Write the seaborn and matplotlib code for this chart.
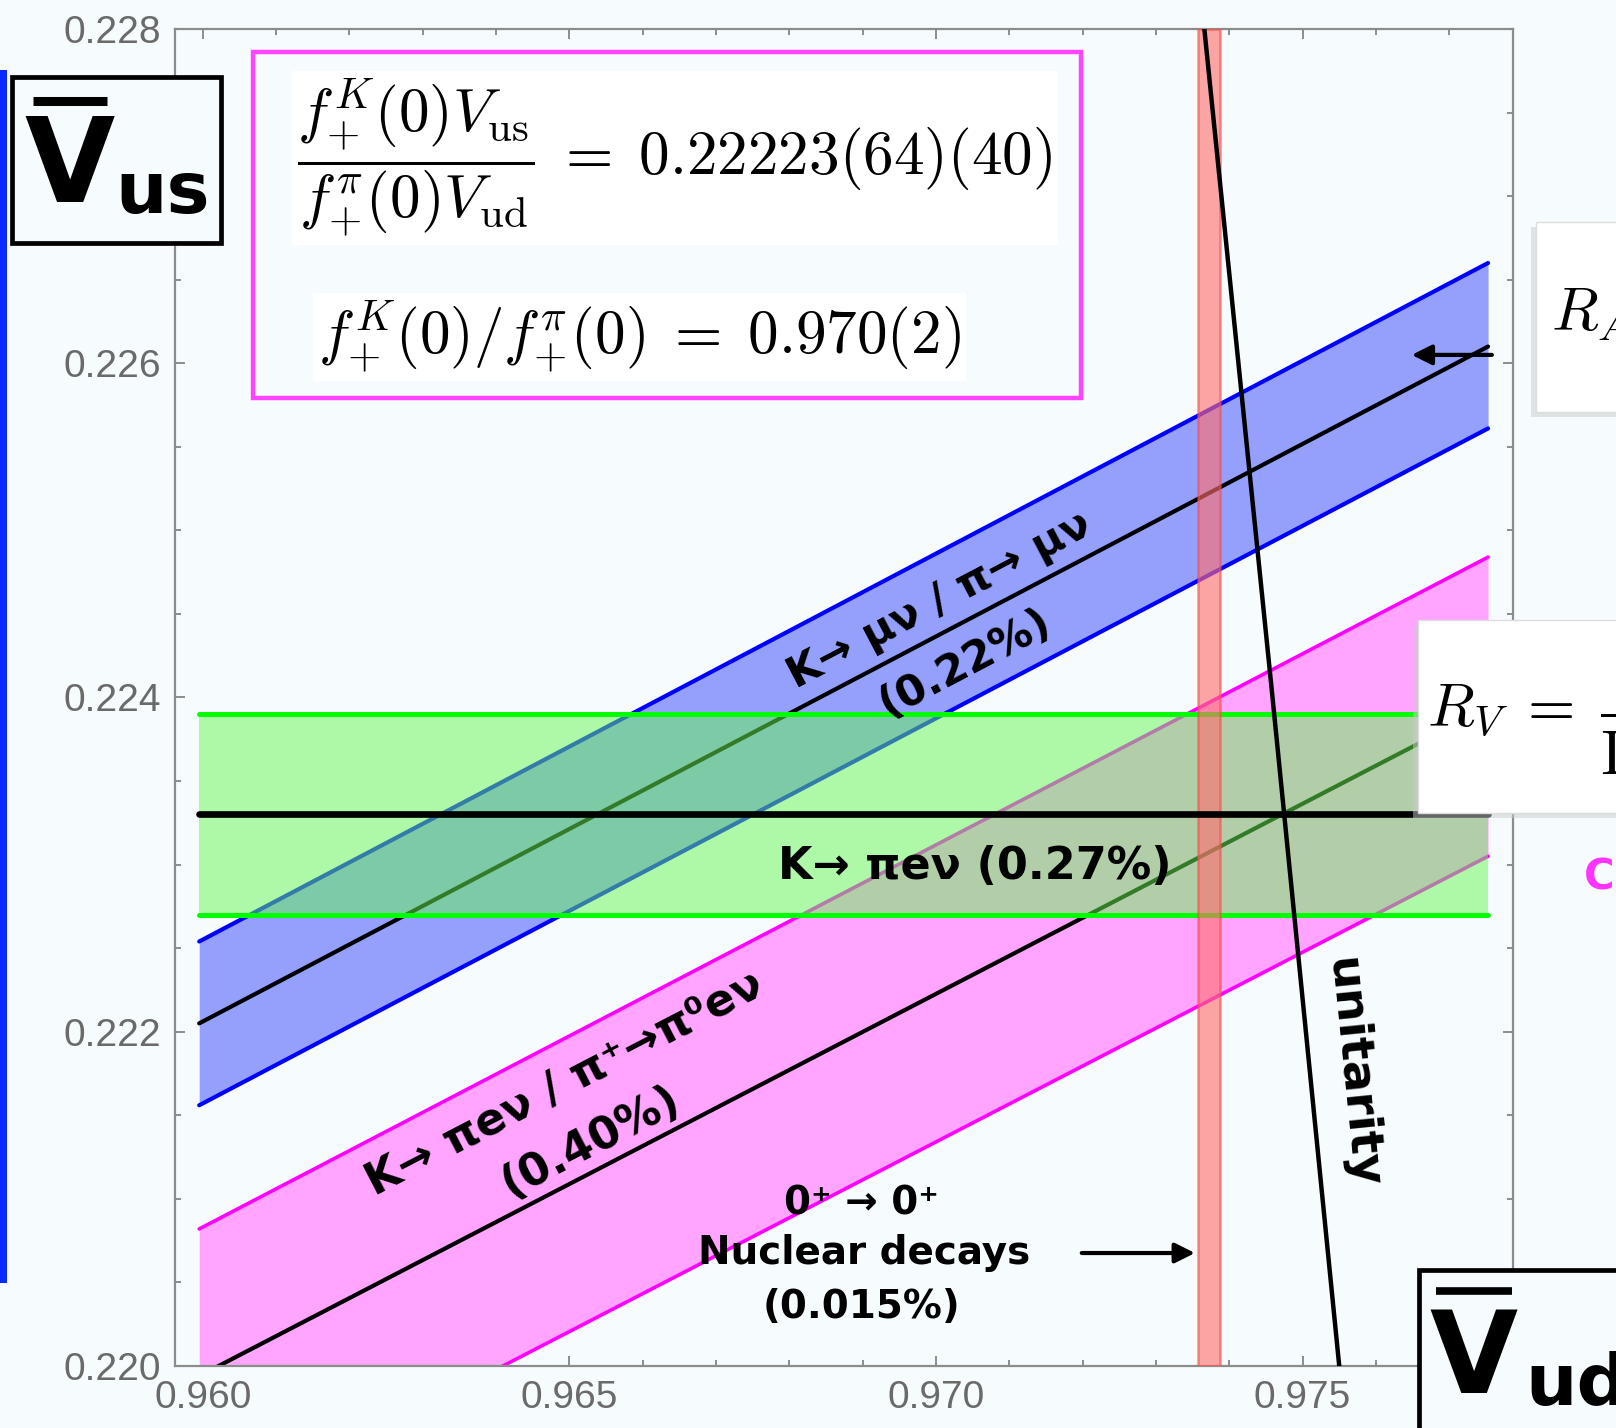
import numpy as np
import pandas as pd
import matplotlib
matplotlib.use("Agg")
import matplotlib.pyplot as plt
import seaborn as sns
from matplotlib.patches import Rectangle
from matplotlib.lines import Line2D
from matplotlib.ticker import FixedLocator, MultipleLocator

# ---------------- data ----------------
band_vud = [0.95995, 0.97753]          # horizontal extent of the three bands
kmu_center = [0.22205, 0.22610]         # K->mu nu / pi->mu nu  (0.22%)
kmu_low = [0.22156, 0.22561]
kmu_up = [0.22254, 0.22660]
kpi_center = [0.21994, 0.22394]         # K->pi e nu / pi+->pi0 e nu (0.40%)
kpi_low = [0.21906, 0.22305]
kpi_up = [0.22082, 0.22484]
kl3_center = [0.22330, 0.22330]         # K->pi e nu (0.27%)
kl3_low = [0.22270, 0.22270]
kl3_up = [0.22390, 0.22390]
nuc_vud = [0.97357, 0.97388]            # 0+ -> 0+ nuclear decays (0.015%)
unit_vus = [0.2200, 0.2240, 0.2280]     # unitarity curve
unit_vud = [0.97550, 0.97459, 0.97366]
xticks = [0.960, 0.965, 0.970, 0.975]
xtick_labels = ["0.960", "0.965", "0.970", "0.975"]
yticks = [0.220, 0.222, 0.224, 0.226, 0.228]
ytick_labels = ["0.220", "0.222", "0.224", "0.226", "0.228"]
xlim = (0.95962, 0.97787)
ylim = (0.2200, 0.2280)

# ---------------- style ----------------
sns.set_style("white")
plt.rcParams["font.family"] = ["DejaVu Sans"]
plt.rcParams["mathtext.fontset"] = "cm"
plt.rcParams["text.color"] = "black"
BG = "#F6FCFD"
W, H = 1616, 1428

fig = plt.figure(figsize=(W / 100, H / 100), dpi=100, facecolor=BG)
ax = fig.add_axes([175 / W, 1 - 1366 / H, (1513 - 175) / W, (1366 - 29) / H])
ax.set_facecolor(BG)
ax.set_xlim(*xlim)
ax.set_ylim(*ylim)


def px(x, y):
    return (x / W, 1 - y / H)


# pink band
ax.fill_between(band_vud, kpi_low, kpi_up, color="#FFA5FF", lw=0, zorder=1)
for yy, c, lw in [(kpi_low, "#FF00FF", 2.6), (kpi_up, "#FF00FF", 2.6), (kpi_center, "black", 3.0)]:
    sns.lineplot(x=band_vud, y=yy, ax=ax, color=c, lw=lw, zorder=2, estimator=None, sort=False)

# blue band
ax.fill_between(band_vud, kmu_low, kmu_up, color="#94A0FC", lw=0, zorder=3)
for yy, c, lw in [(kmu_low, "#0000FF", 3.0), (kmu_up, "#0000FF", 3.0), (kmu_center, "black", 3.0)]:
    sns.lineplot(x=band_vud, y=yy, ax=ax, color=c, lw=lw, zorder=4, estimator=None, sort=False)

# green band (translucent, on top)
ax.fill_between(band_vud, kl3_low, kl3_up, color=(0.40, 0.97, 0.32), alpha=0.5, lw=0, zorder=5)
for yy in (kl3_low, kl3_up):
    sns.lineplot(x=band_vud, y=yy, ax=ax, color="#00FF00", lw=3.6, zorder=6, estimator=None, sort=False)

# red nuclear band
ax.axvspan(nuc_vud[0], nuc_vud[1], facecolor="#FF6E6E", alpha=0.62, edgecolor="#FF4A4A", lw=1.8, zorder=7)

# black central K->pi e nu line
sns.lineplot(x=band_vud, y=kl3_center, ax=ax, color="black", lw=4.8, zorder=8, estimator=None, sort=False)

# unitarity
sns.lineplot(x=unit_vud, y=unit_vus, ax=ax, color="black", lw=3.2, zorder=9, estimator=None, sort=False)
ax.set_xlabel("")
ax.set_ylabel("")

# ---------------- axes styling ----------------
ax.xaxis.set_major_locator(FixedLocator(xticks))
ax.set_xticklabels(xtick_labels)
ax.yaxis.set_major_locator(FixedLocator(yticks))
ax.set_yticklabels(ytick_labels)
ax.xaxis.set_minor_locator(MultipleLocator(0.001))
ax.yaxis.set_minor_locator(MultipleLocator(0.0005))
ax.tick_params(which="both", direction="in", top=True, right=True,
               bottom=True, left=True, color="#7a7a7a", width=1.2)
ax.tick_params(which="major", length=7.5, labelsize=28, labelcolor="#6a6a6a", pad=10)
ax.tick_params(which="minor", length=4.5)
for lab in ax.get_xticklabels() + ax.get_yticklabels():
    lab.set_fontfamily(["Liberation Sans", "DejaVu Sans"])
for sp in ax.spines.values():
    sp.set_color("#8c8c8c")
    sp.set_linewidth(1.6)


# ---------------- band labels ----------------
def screen_angle(x0, y0, x1, y1):
    p0 = ax.transData.transform((x0, y0))
    p1 = ax.transData.transform((x1, y1))
    return np.degrees(np.arctan2(p1[1] - p0[1], p1[0] - p0[0]))


ang_mu = screen_angle(band_vud[0], kmu_center[0], band_vud[1], kmu_center[1])
ang_pi = screen_angle(band_vud[0], kpi_center[0], band_vud[1], kpi_center[1])
ang_u = screen_angle(unit_vud[-1], unit_vus[-1], unit_vud[0], unit_vus[0])

tkw = dict(fontweight="bold", color="black", ha="center", va="center",
           rotation_mode="anchor", zorder=12)
ax.text(0.97005, 0.224583, "K→ μν / π→ μν", fontsize=31, rotation=ang_mu, **tkw)
ax.text(0.97039, 0.224206, "(0.22%)", fontsize=31, rotation=ang_mu, **tkw)
ax.text(0.964937, 0.221693, "K→ πeν / π⁺→π⁰eν", fontsize=32, rotation=ang_pi, **tkw)
ax.text(0.965279, 0.221340, "(0.40%)", fontsize=32, rotation=ang_pi, **tkw)
ax.text(0.970530, 0.222986, "K→ πeν (0.27%)", fontsize=32, **tkw)
ax.text(0.968988, 0.220975, "0⁺ → 0⁺", fontsize=28, **tkw)
ax.text(0.969015, 0.220676, "Nuclear decays", fontsize=28, **tkw)
ax.text(0.968988, 0.220353, "(0.015%)", fontsize=28, **tkw)
ax.text(0.975671, 0.221753, "unitarity", fontsize=34, rotation=ang_u, **tkw)

# arrows
ax.annotate("", xy=(0.97357, 0.220676), xytext=(0.97195, 0.220676),
            arrowprops=dict(arrowstyle="-|>", color="black", lw=3, mutation_scale=30), zorder=12)
ax.annotate("", xy=(0.97645, 0.22605), xytext=(0.97762, 0.22605),
            arrowprops=dict(arrowstyle="-|>", color="black", lw=3, mutation_scale=30), zorder=12)

# ---------------- figure decorations ----------------
# left blue slide bar
fig.add_artist(Rectangle(px(0, 1283), 7 / W, 1213 / H, transform=fig.transFigure,
                         facecolor="#0A2BFF", edgecolor="none", zorder=3))

# formula box
fig.add_artist(Rectangle(px(253, 398), (1081 - 253) / W, (398 - 52) / H, transform=fig.transFigure,
                         facecolor=BG, edgecolor="#FF44FF", lw=3.2, zorder=3))
fig.text(*px(297, 158),
         r"$\dfrac{f_{+}^{K}(0)V_{\mathrm{us}}}{f_{+}^{\pi}(0)V_{\mathrm{ud}}}\;=\;0.22223(64)(40)$",
         fontsize=44, ha="left", va="center", zorder=4,
         bbox=dict(facecolor="white", edgecolor="none", pad=4))
fig.text(*px(318, 337), r"$f_{+}^{K}(0)/f_{+}^{\pi}(0)\;=\;0.970(2)$",
         fontsize=44, ha="left", va="center", zorder=4,
         bbox=dict(facecolor="white", edgecolor="none", pad=4))

# V_us box
fig.add_artist(Rectangle(px(12, 243), (221 - 12) / W, (243 - 77) / H, transform=fig.transFigure,
                         facecolor=BG, edgecolor="black", lw=3.4, zorder=3))
fig.text(*px(24, 202), "V", fontsize=84, fontweight="bold", ha="left", va="baseline", zorder=4)
fig.text(*px(115, 213), "us", fontsize=52, fontweight="bold", ha="left", va="baseline", zorder=4)
fig.add_artist(Line2D([33 / W, 107 / W], [1 - 101 / H, 1 - 101 / H], transform=fig.transFigure,
                      color="black", lw=6.5, solid_capstyle="butt", zorder=4))

# R_A box
fig.add_artist(Rectangle(px(1531, 417), 200 / W, 190 / H, transform=fig.transFigure,
                         facecolor="#c8cccc", edgecolor="none", alpha=0.5, zorder=3))
fig.add_artist(Rectangle(px(1536, 412), 200 / W, 190 / H, transform=fig.transFigure,
                         facecolor="white", edgecolor="#dddddd", lw=1, zorder=3))
fig.text(*px(1551, 317), r"$R_A\;=\;\dfrac{\Gamma(K\to\mu\nu)}{\Gamma(\pi\to\mu\nu)}$",
         fontsize=44, ha="left", va="center", zorder=4)

# R_V box
fig.add_artist(Rectangle(px(1413, 818), 300 / W, 193 / H, transform=fig.transFigure,
                         facecolor="#c8cccc", edgecolor="none", alpha=0.5, zorder=3))
fig.add_artist(Rectangle(px(1418, 813), 300 / W, 193 / H, transform=fig.transFigure,
                         facecolor="white", edgecolor="#dddddd", lw=1, zorder=3))
fig.text(*px(1427, 716), r"$R_V\;=\;\dfrac{\Gamma(K\to\pi e\nu)}{\Gamma(\pi^+\to\pi^0 e\nu)}$",
         fontsize=44, ha="left", va="center", zorder=4)

# magenta partial caption
fig.text(*px(1584, 877), "CKM", fontsize=30, fontweight="bold", color="#FF33FF",
         ha="left", va="center", zorder=4)

# V_ud box
fig.add_artist(Rectangle(px(1419, 1500), 300 / W, 230 / H, transform=fig.transFigure,
                         facecolor=BG, edgecolor="black", lw=3.4, zorder=3))
fig.text(*px(1429, 1393), "V", fontsize=82, fontweight="bold", ha="left", va="baseline", zorder=4)
fig.text(*px(1525, 1405), "ud", fontsize=52, fontweight="bold", ha="left", va="baseline", zorder=4)
fig.add_artist(Line2D([1436 / W, 1512 / W], [1 - 1291 / H, 1 - 1291 / H], transform=fig.transFigure,
                      color="black", lw=5.5, solid_capstyle="butt", zorder=4))

fig.savefig("out.png", dpi=100, facecolor=BG)
